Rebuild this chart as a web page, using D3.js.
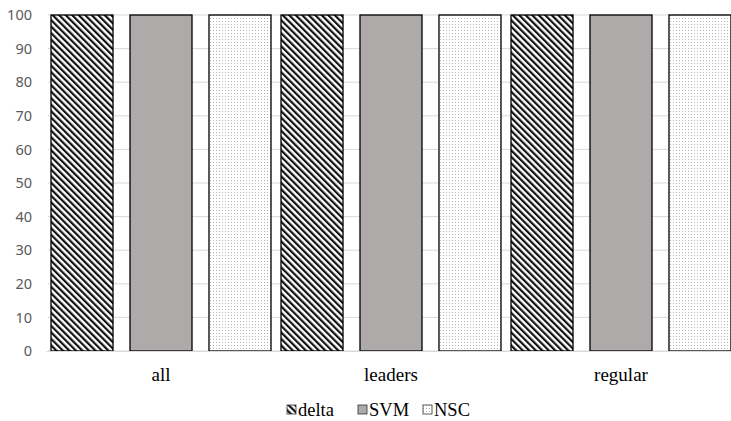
<!DOCTYPE html>
<html>
<head>
<meta charset="utf-8">
<script src="https://cdn.jsdelivr.net/npm/d3@7"></script>
<style>
  body { margin: 0; background: #fff; }
  .tick text { font-family: "Noto Sans", sans-serif; }
</style>
</head>
<body>
<div id="chart"></div>
<script>
// data
var categories = ["all", "leaders", "regular"];
var seriesNames = ["delta", "SVM", "NSC"];
var deltaValues = [100, 100, 100];
var svmValues = [100, 100, 100];
var nscValues = [100, 100, 100];
var yTicks = [0, 10, 20, 30, 40, 50, 60, 70, 80, 90, 100];

var seriesValues = [deltaValues, svmValues, nscValues];

var width = 731, height = 421;
var margin = { top: 15, right: -5, bottom: 70, left: 46 };
var innerW = width - margin.left - margin.right;
var innerH = height - margin.top - margin.bottom;

var svg = d3.select("#chart")
	.append("svg")
	.attr("width", width)
	.attr("height", height);

// patterns
var defs = svg.append("defs");

var hatch = defs.append("pattern")
	.attr("id", "hatch")
	.attr("patternUnits", "userSpaceOnUse")
	.attr("width", 4.6)
	.attr("height", 4.6)
	.attr("patternTransform", "rotate(-45)");
hatch.append("rect").attr("width", 4.6).attr("height", 4.6).attr("fill", "#fff");
hatch.append("rect").attr("width", 2.2).attr("height", 4.6).attr("fill", "#111");

var dots = defs.append("pattern")
	.attr("id", "dots")
	.attr("patternUnits", "userSpaceOnUse")
	.attr("width", 3)
	.attr("height", 3);
dots.append("rect").attr("width", 3).attr("height", 3).attr("fill", "#fff");
dots.append("rect").attr("width", 1).attr("height", 1).attr("fill", "#b4b4b4");

var fills = ["url(#hatch)", "#aeaaaa", "url(#dots)"];

var g = svg.append("g")
	.attr("transform", "translate(" + margin.left + "," + margin.top + ")");

var x0 = d3.scaleBand().domain(categories).range([0, innerW]).paddingInner(0).paddingOuter(0);
var x1 = d3.scaleBand().domain(seriesNames).range([0, 220]).paddingInner(0.215).paddingOuter(0);
var y = d3.scaleLinear().domain([0, 100]).range([innerH, 0]);

// gridlines
g.selectAll(".grid")
	.data(yTicks)
	.enter()
	.append("line")
	.attr("class", "grid")
	.attr("x1", 2)
	.attr("x2", innerW)
	.attr("y1", (d) => y(d))
	.attr("y2", (d) => y(d))
	.attr("stroke", "#d9d9d9")
	.attr("stroke-width", 1);

// y axis labels
var yAxis = g.append("g")
	.call(d3.axisLeft(y).tickValues(yTicks).tickSize(0).tickPadding(14));
yAxis.select(".domain").remove();
yAxis.selectAll("text")
	.attr("fill", "#595959")
	.style("font-size", "14.5px");

// bars
var groups = g.selectAll(".group")
	.data(categories)
	.enter()
	.append("g")
	.attr("class", "group")
	.attr("transform", (d) => "translate(" + (x0(d) + 5) + ",0)");

groups.selectAll("rect")
	.data((d, i) => seriesNames.map((s, j) => ({ series: s, idx: j, value: seriesValues[j][i] })))
	.enter()
	.append("rect")
	.attr("x", (d) => x1(d.series))
	.attr("width", x1.bandwidth())
	.attr("y", (d) => y(d.value))
	.attr("height", (d) => innerH - y(d.value))
	.attr("fill", (d) => fills[d.idx])
	.attr("stroke", "#000")
	.attr("stroke-width", 1.3);

// x axis
var xAxis = g.append("g")
	.attr("transform", "translate(0," + innerH + ")")
	.call(d3.axisBottom(x0).tickSize(0).tickPadding(17));
xAxis.select(".domain").attr("stroke", "#d9d9d9");
xAxis.selectAll("text")
	.attr("fill", "#000")
	.style("font-family", "'Liberation Serif', serif")
	.style("font-size", "19px");

// legend
var legendX = [287, 358, 423];
var legend = svg.selectAll(".legend")
	.data(seriesNames)
	.enter()
	.append("g")
	.attr("class", "legend")
	.attr("transform", (d, i) => "translate(" + legendX[i] + ",405)");

legend.append("rect")
	.attr("width", 9)
	.attr("height", 9)
	.attr("fill", (d, i) => fills[i])
	.attr("stroke", "#333")
	.attr("stroke-width", 0.8);

legend.append("text")
	.text((d) => d)
	.attr("x", 11)
	.attr("y", 11)
	.style("font-family", "'Liberation Serif', serif")
	.style("font-size", "18.5px")
	.attr("fill", "#000");
</script>
</body>
</html>
